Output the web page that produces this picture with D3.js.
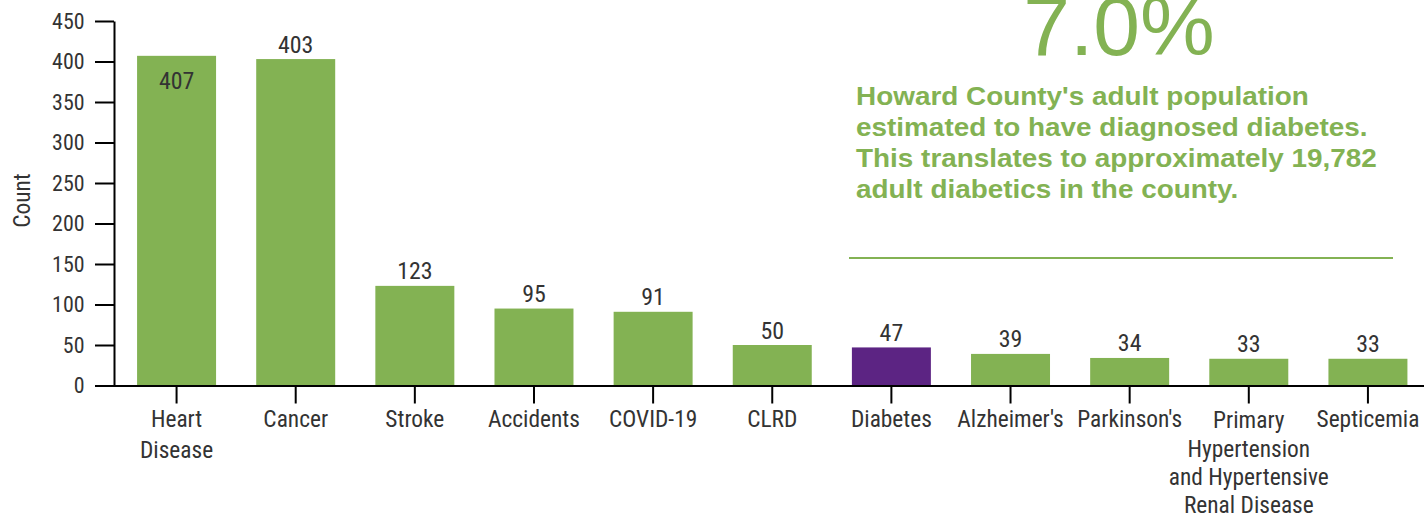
<!DOCTYPE html>
<html><head><meta charset="utf-8">
<script src="https://cdn.jsdelivr.net/npm/d3@7"></script>
<style>body{margin:0;background:#fff} svg{display:block}</style>
</head><body><svg id="chart" width="1424" height="514"></svg>
<script>
const categories = ["Heart Disease","Cancer","Stroke","Accidents","COVID-19","CLRD","Diabetes","Alzheimer's","Parkinson's","Primary Hypertension and Hypertensive Renal Disease","Septicemia"];
const tickLabels = [["Heart","Disease"],["Cancer"],["Stroke"],["Accidents"],["COVID-19"],["CLRD"],["Diabetes"],["Alzheimer's"],["Parkinson's"],["Primary","Hypertension","and Hypertensive","Renal Disease"],["Septicemia"]];
const values = [407,403,123,95,91,50,47,39,34,33,33];
const highlight = "Diabetes";
const yTicks = [0,50,100,150,200,250,300,350,400,450];
const yTitle = "Count";
const bigStat = "7.0%";
const noteLines = ["Howard County's adult population","estimated to have diagnosed diabetes.","This translates to approximately 19,782","adult diabetics in the county."];

const GREEN = "#83b253", PURPLE = "#5c2483", TEXT = "#333333";
const FONT = "Roboto Condensed, Roboto, sans-serif";
const svg = d3.select("#chart");

// measure Roboto to emulate a condensed face
const probe = svg.append("text").attr("font-family", FONT).attr("font-size", 23.5).text("Accidents");
const SX = Math.min(1, 92 / probe.node().getComputedTextLength());
probe.remove();

const x = d3.scaleBand().domain(categories).range([117, 1427.5]).paddingInner(0.337).paddingOuter(0.1685);
const y = d3.scaleLinear().domain([0, 450]).range([385.5, 21]);

// bars
svg.append("g").selectAll("rect").data(values).join("rect")
  .attr("x", (d,i) => x(categories[i]))
  .attr("width", x.bandwidth())
  .attr("y", d => y(d))
  .attr("height", d => y(0) - y(d))
  .attr("fill", (d,i) => categories[i] === highlight ? PURPLE : GREEN);

// value labels
const maxV = d3.max(values);
svg.append("g").selectAll("g").data(values).join("g")
  .attr("transform", (d,i) => `translate(${x(categories[i]) + x.bandwidth()/2},${d === maxV ? y(d) + 33.5 : y(d) - 6.5}) scale(${SX},1)`)
  .append("text")
  .attr("text-anchor", "middle")
  .attr("font-family", FONT)
  .attr("font-size", 24)
  .attr("fill", TEXT)
  .text(d => d);

// y axis
const yAxis = svg.append("g").attr("transform", "translate(114,0)")
  .call(d3.axisLeft(y).tickValues(yTicks).tickSize(19).tickSizeOuter(0));
yAxis.selectAll("path, line").attr("stroke", "#000").attr("stroke-width", 2);
yAxis.selectAll("text")
  .attr("font-family", FONT)
  .attr("font-size", 22).attr("fill", TEXT)
  .attr("transform", `scale(${SX},1)`)
  .attr("x", -29.5 / SX);

// x axis
const xAxis = svg.append("g").attr("transform", "translate(0,385.5)")
  .call(d3.axisBottom(x).tickSize(18).tickSizeOuter(0).tickFormat(""));
xAxis.select(".domain").attr("d", `M${x.range()[0] - 4},0.5H1424`);
xAxis.selectAll("path, line").attr("stroke", "#000").attr("stroke-width", 2);
xAxis.selectAll(".tick").each(function(d) {
  const i = categories.indexOf(d);
  const lines = tickLabels[i];
  const lh = lines.length > 2 ? 28.3 : 31;
  const first = lines.length > 2 ? 43 : 41.5;
  const t = d3.select(this).append("text")
    .attr("text-anchor", "middle")
    .attr("font-family", FONT)
    .attr("font-size", 23.5).attr("fill", TEXT)
    .attr("transform", `scale(${SX},1)`);
  lines.forEach((line, k) => {
    t.append("tspan").attr("x", 0).attr("y", first + k * lh).text(line);
  });
});

// y title
svg.append("text")
  .attr("transform", `translate(30,200.5) rotate(-90) scale(${SX},1)`)
  .attr("text-anchor", "middle")
  .attr("font-family", FONT)
  .attr("font-size", 23.5).attr("fill", TEXT)
  .text(yTitle);

// annotation
svg.append("text")
  .attr("x", 1119).attr("y", 55)
  .attr("text-anchor", "middle")
  .attr("font-family", "Liberation Sans, Arial, sans-serif")
  .attr("font-size", 84).attr("fill", GREEN)
  .text(bigStat);

const noteG = svg.append("g");
const note = noteG.append("text")
  .attr("font-family", "Liberation Sans, Arial, sans-serif")
  .attr("font-weight", "bold")
  .attr("font-size", 25.6).attr("fill", GREEN);
noteLines.forEach((line, k) => {
  note.append("tspan").attr("x", 0).attr("y", 105 + k * 31).text(line);
});
const w3 = note.selectAll("tspan").nodes()[2].getComputedTextLength();
const NX = 521 / w3;
noteG.attr("transform", `translate(856,0) scale(${NX},1)`);

svg.append("line")
  .attr("x1", 849).attr("x2", 1393).attr("y1", 258).attr("y2", 258)
  .attr("stroke", GREEN).attr("stroke-width", 2);
</script></body></html>
